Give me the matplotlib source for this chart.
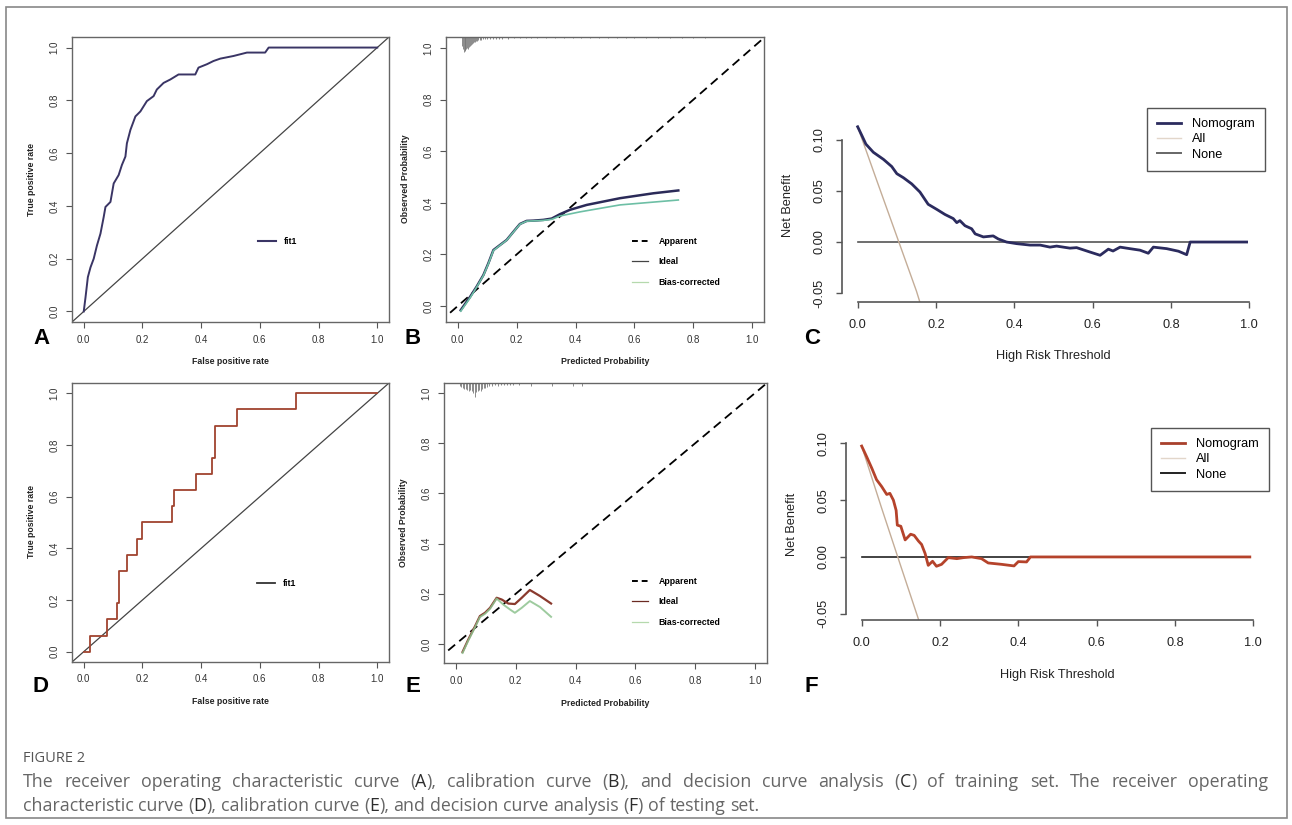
import re
import matplotlib
matplotlib.use('Agg')
import matplotlib.pyplot as plt
from matplotlib.lines import Line2D
from matplotlib.patches import Rectangle

W, H = 1292, 825
plt.rcParams['font.family'] = ['Liberation Sans', 'DejaVu Sans']
plt.rcParams['axes.unicode_minus'] = False

# ---- data ----
# A: ROC training
roc_a_fpr = [0.0, 0.006, 0.014, 0.023, 0.034, 0.045, 0.057, 0.068, 0.074, 0.091, 0.102, 0.119,
             0.130, 0.142, 0.147, 0.159, 0.176, 0.193, 0.215, 0.238, 0.249, 0.272, 0.295, 0.323,
             0.380, 0.391, 0.420, 0.442, 0.465, 0.510, 0.556, 0.618, 0.630, 1.0]
roc_a_tpr = [0.0, 0.053, 0.130, 0.167, 0.200, 0.250, 0.295, 0.358, 0.396, 0.415, 0.485, 0.517,
             0.555, 0.587, 0.637, 0.688, 0.739, 0.758, 0.797, 0.816, 0.841, 0.866, 0.879, 0.898,
             0.898, 0.924, 0.937, 0.949, 0.958, 0.968, 0.981, 0.981, 1.0, 1.0]
# D: ROC testing (corners of the staircase)
roc_d_fpr = [0.0, 0.02, 0.08, 0.114, 0.12, 0.148, 0.18, 0.20, 0.30, 0.307, 0.382, 0.436, 0.447,
             0.522, 0.724, 1.0]
roc_d_tpr = [0.0, 0.0625, 0.125, 0.1875, 0.3125, 0.375, 0.4375, 0.5, 0.5625, 0.625, 0.6875, 0.75,
             0.875, 0.9375, 1.0, 1.0]

# B: calibration training
cal_b_ideal_x = [0.010, 0.042, 0.064, 0.087, 0.104, 0.121, 0.144, 0.166, 0.189, 0.211, 0.234, 0.257,
                 0.291, 0.319, 0.347, 0.381, 0.438, 0.551, 0.664, 0.749]
cal_b_ideal_y = [-0.016, 0.036, 0.075, 0.120, 0.166, 0.217, 0.237, 0.256, 0.288, 0.318, 0.330, 0.331,
                 0.334, 0.339, 0.356, 0.373, 0.392, 0.418, 0.437, 0.448]
cal_b_bias_x = [0.010, 0.042, 0.064, 0.087, 0.104, 0.121, 0.144, 0.166, 0.189, 0.211, 0.234, 0.257,
                0.291, 0.319, 0.347, 0.415, 0.551, 0.749]
cal_b_bias_y = [-0.020, 0.032, 0.073, 0.118, 0.164, 0.215, 0.236, 0.255, 0.287, 0.317, 0.329, 0.330,
                0.332, 0.336, 0.349, 0.365, 0.392, 0.411]
rug_b_x = [0.014, 0.017, 0.020, 0.023, 0.026, 0.029, 0.032, 0.035, 0.038, 0.041, 0.044, 0.047, 0.050,
           0.054, 0.058, 0.062, 0.066, 0.070, 0.075, 0.080, 0.086, 0.092, 0.10, 0.11, 0.12, 0.13,
           0.14, 0.15, 0.17, 0.19, 0.21, 0.23, 0.25, 0.27, 0.30, 0.33, 0.36, 0.39, 0.42, 0.45,
           0.48, 0.51, 0.54, 0.57, 0.60, 0.64, 0.68, 0.72, 0.76, 0.80, 0.84]
rug_b_h = [0.035, 0.047, 0.058, 0.054, 0.050, 0.047, 0.043, 0.047, 0.039, 0.035, 0.031, 0.027, 0.023,
           0.019, 0.019, 0.016, 0.016, 0.012, 0.012, 0.012, 0.008, 0.008, 0.008, 0.008, 0.008, 0.006,
           0.006, 0.006, 0.006, 0.004, 0.004, 0.004, 0.004, 0.004, 0.004, 0.004, 0.004, 0.004, 0.004,
           0.004, 0.004, 0.004, 0.004, 0.004, 0.004, 0.004, 0.004, 0.004, 0.004, 0.004, 0.004]

# E: calibration testing
cal_e_ideal_x = [0.022, 0.041, 0.064, 0.080, 0.097, 0.114, 0.136, 0.153, 0.175, 0.197, 0.220, 0.247,
                 0.281, 0.318]
cal_e_ideal_y = [-0.032, 0.017, 0.071, 0.111, 0.124, 0.144, 0.184, 0.177, 0.161, 0.159, 0.184, 0.215,
                 0.191, 0.161]
cal_e_bias_x = [0.022, 0.041, 0.064, 0.080, 0.097, 0.114, 0.136, 0.158, 0.181, 0.197, 0.220, 0.247,
                0.281, 0.318]
cal_e_bias_y = [-0.036, 0.013, 0.067, 0.107, 0.120, 0.140, 0.181, 0.157, 0.137, 0.124, 0.144, 0.171,
                0.147, 0.108]
rug_e_x = [0.013, 0.018, 0.023, 0.028, 0.033, 0.038, 0.043, 0.048, 0.053, 0.058, 0.064, 0.068, 0.073,
           0.078, 0.083, 0.088, 0.093, 0.098, 0.104, 0.11, 0.12, 0.13, 0.14, 0.15, 0.16, 0.17, 0.18,
           0.19, 0.21, 0.25, 0.32, 0.39, 0.42]
rug_e_h = [0.012, 0.016, 0.020, 0.024, 0.024, 0.028, 0.032, 0.028, 0.032, 0.040, 0.056, 0.036, 0.032,
           0.028, 0.032, 0.024, 0.020, 0.020, 0.016, 0.012, 0.012, 0.008, 0.012, 0.008, 0.008, 0.008,
           0.008, 0.008, 0.008, 0.012, 0.012, 0.012, 0.012]

# C: decision curve training
dca_c_thr = [0, 0.010, 0.021, 0.040, 0.066, 0.087, 0.100, 0.117, 0.138, 0.159, 0.180, 0.202, 0.223,
             0.244, 0.253, 0.261, 0.274, 0.291, 0.300, 0.321, 0.346, 0.359, 0.380, 0.406, 0.440,
             0.466, 0.491, 0.508, 0.542, 0.559, 0.593, 0.619, 0.640, 0.652, 0.670, 0.695, 0.721,
             0.742, 0.755, 0.789, 0.819, 0.840, 0.849, 0.993]
dca_c_nom = [0.113, 0.105, 0.096, 0.088, 0.081, 0.074, 0.067, 0.063, 0.057, 0.049, 0.037, 0.032, 0.027,
             0.023, 0.019, 0.021, 0.016, 0.013, 0.008, 0.005, 0.006, 0.003, 0.000, -0.0016, -0.003,
             -0.003, -0.005, -0.004, -0.006, -0.0055, -0.0098, -0.013, -0.007, -0.0088, -0.005,
             -0.0065, -0.008, -0.011, -0.005, -0.0065, -0.009, -0.0124, 0.0, 0.0]
dca_c_all_thr = [0, 0.05, 0.10, 0.15, 0.20]
dca_c_all = [0.113, 0.059, 0.0055, -0.048, -0.11]
dca_c_none_thr = [0, 0.993]
dca_c_none = [0, 0]

# F: decision curve testing
dca_f_thr = [0, 0.013, 0.026, 0.038, 0.051, 0.064, 0.072, 0.081, 0.088, 0.091, 0.100, 0.111, 0.125,
             0.134, 0.145, 0.153, 0.162, 0.170, 0.181, 0.191, 0.204, 0.221, 0.243, 0.260, 0.281,
             0.306, 0.323, 0.357, 0.389, 0.400, 0.421, 0.431, 0.991]
dca_f_nom = [0.0976, 0.088, 0.078, 0.068, 0.062, 0.055, 0.056, 0.050, 0.041, 0.028, 0.027, 0.015, 0.020,
             0.019, 0.014, 0.011, 0.003, -0.0074, -0.0038, -0.0082, -0.0065, -0.0006, -0.0015,
             -0.0006, 0.0, -0.0015, -0.0053, -0.0065, -0.0079, -0.0041, -0.0044, 0.0, 0.0]
dca_f_all_thr = [0, 0.05, 0.10, 0.15, 0.20]
dca_f_all = [0.0976, 0.044, -0.0082, -0.060, -0.11]
dca_f_none_thr = [0, 0.991]
dca_f_none = [0, 0]

unit_ticks = [0, 0.2, 0.4, 0.6, 0.8, 1.0]
unit_labels = ['0.0', '0.2', '0.4', '0.6', '0.8', '1.0']
nb_ticks = [-0.05, 0.0, 0.05, 0.10]
nb_labels = ['-0.05', '0.00', '0.05', '0.10']

caption_title = 'FIGURE 2'
caption_line1 = ('The receiver operating characteristic curve (A), calibration curve (B), and '
                 'decision curve analysis (C) of training set. The receiver operating')
caption_line2 = ('characteristic curve (D), calibration curve (E), and decision curve analysis (F) '
                 'of testing set.')

fig = plt.figure(figsize=(W / 100, H / 100), dpi=100)


def box(x0, y0, x1, y1):
    return [x0 / W, 1 - y1 / H, (x1 - x0) / W, (y1 - y0) / H]


def px(x, y):
    return (x / W, 1 - y / H)


def ftext(x, y, s, **kw):
    return fig.text(*px(x, y), s, **kw)


def small_axes(rect, ylim):
    ax = fig.add_axes(box(*rect))
    ax.set_xlim(-0.04, 1.04)
    ax.set_ylim(*ylim)
    ax.set_xticks(unit_ticks, unit_labels)
    ax.set_yticks(unit_ticks, unit_labels)
    ax.tick_params(direction='out', length=4, width=0.8, color='#555', labelcolor='#333',
                   labelsize=7, pad=5)
    ax.tick_params(axis='y', labelrotation=90)
    for t in ax.get_yticklabels():
        t.set_va('center')
    for s in ax.spines.values():
        s.set_color('#666')
        s.set_linewidth(1.0)
    return ax


def dca_axes(rect, ylim):
    ax = fig.add_axes(box(*rect))
    ax.set_xlim(-0.04, 1.04)
    ax.set_ylim(*ylim)
    ax.set_xticks(unit_ticks, unit_labels)
    ax.set_yticks(nb_ticks, nb_labels)
    ax.tick_params(direction='out', length=4, width=1.0, color='#555', labelcolor='#222',
                   labelsize=9.2, pad=8)
    ax.tick_params(axis='y', labelrotation=90)
    for t in ax.get_yticklabels():
        t.set_va('center')
    ax.spines['top'].set_visible(False)
    ax.spines['right'].set_visible(False)
    ax.spines['left'].set_bounds(-0.05, 0.10)
    ax.spines['bottom'].set_bounds(0, 1)
    for s in ('left', 'bottom'):
        ax.spines[s].set_color('#555')
        ax.spines[s].set_linewidth(1.2)
    ax.patch.set_alpha(0)
    return ax


lab_kw = dict(fontsize=6.3, fontweight='bold', color='#222', ha='center', va='center')

# ---- A ----
ax = small_axes((72, 37, 389, 322), (-0.04, 1.04))
ax.plot([-0.1, 1.1], [-0.1, 1.1], color='#444', lw=0.9)
ax.plot(roc_a_fpr, roc_a_tpr, color='#3a3565', lw=1.4)
ax.legend([Line2D([], [], color='#3a3565', lw=1.5)], ['fit1'], loc='center left',
          bbox_to_anchor=px(254, 242), bbox_transform=fig.transFigure, frameon=False,
          borderpad=0, handlelength=2.0, handletextpad=0.9, prop=dict(size=6.3, weight='bold'))
ftext(230, 362, 'False positive rate', **lab_kw)
ftext(31, 179, 'True positive rate', rotation=90, **lab_kw)

# ---- D ----
ax = small_axes((72, 383, 389, 662), (-0.04, 1.04))
ax.plot([-0.1, 1.1], [-0.1, 1.1], color='#444', lw=0.9)
ax.plot(roc_d_fpr, roc_d_tpr, color='#a0432f', lw=1.3, drawstyle='steps-post')
ax.legend([Line2D([], [], color='#333', lw=1.3)], ['fit1'], loc='center left',
          bbox_to_anchor=px(253, 584), bbox_transform=fig.transFigure, frameon=False,
          borderpad=0, handlelength=2.0, handletextpad=0.9, prop=dict(size=6.3, weight='bold'))
ftext(230, 702, 'False positive rate', **lab_kw)
ftext(31, 522, 'True positive rate', rotation=90, **lab_kw)


def calib_legend(ax, ideal_col, y):
    hs = [Line2D([], [], color='black', lw=1.4, dashes=(3, 2)),
          Line2D([], [], color=ideal_col, lw=0.9),
          Line2D([], [], color='#b5d9ad', lw=0.9)]
    ax.legend(hs, ['Apparent', 'Ideal', 'Bias-corrected'], loc='center left',
              bbox_to_anchor=px(628, y), bbox_transform=fig.transFigure, frameon=False,
              borderpad=0, handlelength=1.8, handletextpad=1.2, labelspacing=1.3,
              prop=dict(size=6.3, weight='bold'))


# ---- B ----
ylim_b = (-0.062, 1.043)
ax = small_axes((446, 37, 764, 322), ylim_b)
ax.plot([-0.1, 1.1], [-0.1, 1.1], color='black', lw=1.3, dashes=(5, 3))
ax.plot(cal_b_ideal_x, cal_b_ideal_y, color='#2b2a58', lw=1.8)
ax.plot(cal_b_bias_x, cal_b_bias_y, color='#6dbfa5', lw=1.2)
ax.vlines(rug_b_x, [ylim_b[1] - h for h in rug_b_h], ylim_b[1], color='#777', lw=0.6)
calib_legend(ax, '#444', 262)
ftext(605, 362, 'Predicted Probability', **lab_kw)
ftext(406, 179, 'Observed Probability', rotation=90, **lab_kw)

# ---- E ----
ylim_e = (-0.076, 1.04)
ax = small_axes((444, 383, 767, 663), ylim_e)
ax.plot([-0.1, 1.1], [-0.1, 1.1], color='black', lw=1.3, dashes=(5, 3))
ax.plot(cal_e_ideal_x, cal_e_ideal_y, color='#8a3a2e', lw=1.6)
ax.plot(cal_e_bias_x, cal_e_bias_y, color='#8dc28e', lw=1.4, alpha=0.85)
ax.vlines(rug_e_x, [ylim_e[1] - h for h in rug_e_h], ylim_e[1], color='#777', lw=0.6)
calib_legend(ax, '#6b2a22', 602)
ftext(605, 704, 'Predicted Probability', **lab_kw)
ftext(404, 523, 'Observed Probability', rotation=90, **lab_kw)


def dca_legend(ax, nom_col, none_col, anchor):
    hs = [Line2D([], [], color=nom_col, lw=2.0),
          Line2D([], [], color='#e2d6ca', lw=1.0),
          Line2D([], [], color=none_col, lw=1.4)]
    leg = ax.legend(hs, ['Nomogram', 'All', 'None'], loc='upper right', bbox_to_anchor=px(*anchor),
                    bbox_transform=fig.transFigure, fancybox=False, edgecolor='#555',
                    framealpha=1, borderpad=0.8, handlelength=1.9, handletextpad=0.85,
                    labelspacing=0.25, borderaxespad=0, fontsize=9.2)
    leg.get_frame().set_linewidth(1.0)


dk = dict(fontsize=9.2, color='#222', ha='center', va='center')

# ---- C ----
ax = dca_axes((842, 108, 1265, 302), (-0.0588, 0.1314))
ax.plot(dca_c_none_thr, dca_c_none, color='#555', lw=1.2)
ax.plot(dca_c_all_thr, dca_c_all, color='#c4ad98', lw=1.0)
ax.plot(dca_c_thr, dca_c_nom, color='#2b2b5e', lw=2.0)
dca_legend(ax, '#2b2b5e', '#666', (1265, 108))
ftext(1053, 356, 'High Risk Threshold', **dk)
ftext(788, 205, 'Net Benefit', rotation=90, **dk)

# ---- F ----
ax = dca_axes((846, 428, 1269, 620), (-0.0555, 0.1135))
ax.plot(dca_f_none_thr, dca_f_none, color='#222', lw=1.2)
ax.plot(dca_f_all_thr, dca_f_all, color='#c4ad98', lw=1.0)
ax.plot(dca_f_thr, dca_f_nom, color='#b5432b', lw=2.0)
dca_legend(ax, '#a8402c', '#222', (1269, 428))
ftext(1057, 675, 'High Risk Threshold', **dk)
ftext(792, 524, 'Net Benefit', rotation=90, **dk)

# ---- panel letters ----
for letter, x, y in [('A', 41, 339), ('B', 413, 339), ('C', 812, 338),
                     ('D', 41, 687), ('E', 413, 687), ('F', 811, 687)]:
    ftext(x, y, letter, fontsize=16, fontweight='bold', color='black', ha='center', va='center')

# ---- outer frame ----
fig.patches.append(Rectangle(px(6, 818), (1287 - 6) / W, (818 - 7) / H, transform=fig.transFigure,
                             fill=False, edgecolor='#888', lw=1.2))

# ---- caption ----
cap_font = 'Open Sans'
ftext(23, 758, caption_title, fontsize=10.5, color='#555', family=cap_font, ha='left', va='center')

renderer = fig.canvas.get_renderer()


def make_words(line, fs):
    words = []
    for w in line.split(' '):
        parts = re.split(r'(?<=\()([A-F])(?=\))', w)
        pieces = []
        for i, p in enumerate(parts):
            if p == '':
                continue
            col = '#2d2d2d' if i % 2 == 1 else '#666'
            t = fig.text(0, 0, p, fontsize=fs, color=col, family=cap_font, ha='left', va='center')
            pieces.append((t, t.get_window_extent(renderer).width))
        words.append(pieces)
    return words


def place(words, x0, y, width=None, fs=11):
    wsum = sum(sum(w for _, w in word) for word in words)
    if width is None:
        a = fig.text(0, 0, 'a a', fontsize=fs, family=cap_font)
        b = fig.text(0, 0, 'aa', fontsize=fs, family=cap_font)
        gap = a.get_window_extent(renderer).width - b.get_window_extent(renderer).width
        a.remove()
        b.remove()
    else:
        gap = (width - wsum) / (len(words) - 1)
    x = x0
    for word in words:
        for t, w in word:
            t.set_position(px(x, y))
            x += w
        x += gap


cap_fs = 12.8
place(make_words(caption_line1, cap_fs), 23, 782, width=1245, fs=cap_fs)
place(make_words(caption_line2, cap_fs), 23, 806, fs=cap_fs)

fig.savefig('out.png', dpi=100)
